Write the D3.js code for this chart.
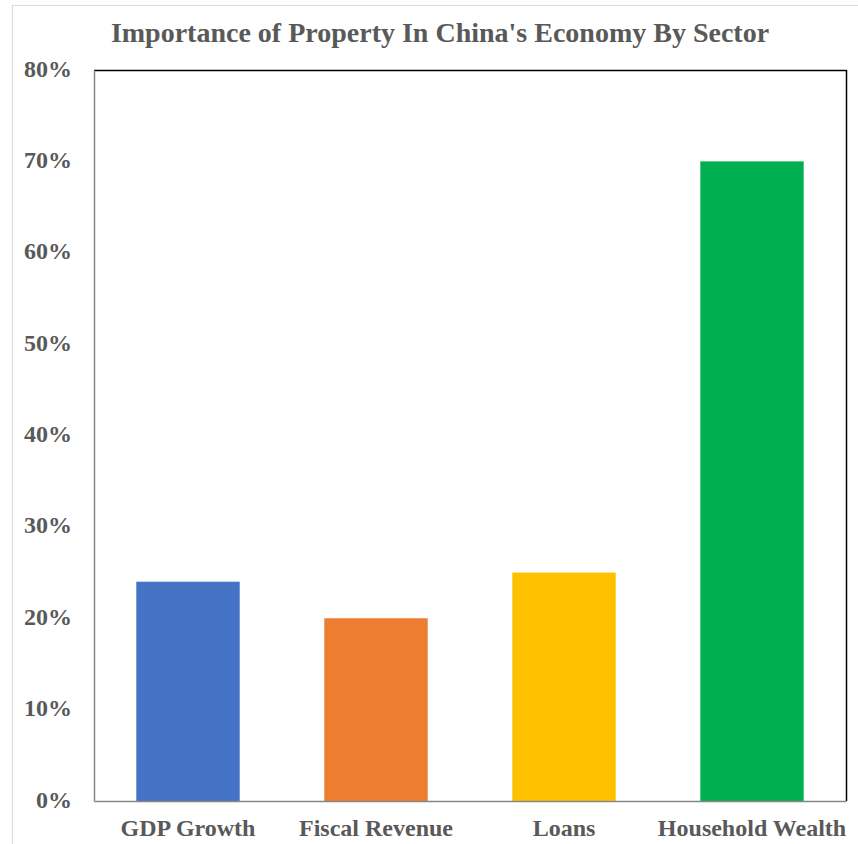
<!DOCTYPE html>
<html><head><meta charset="utf-8">
<script src="https://cdn.jsdelivr.net/npm/d3@7"></script>
<style>body{margin:0;background:#fff}svg{display:block}</style>
</head><body>
<script>
const categories = ["GDP Growth", "Fiscal Revenue", "Loans", "Household Wealth"];
const values = [0.24, 0.20, 0.25, 0.70];
const colors = ["#4472C4", "#ED7D31", "#FFC000", "#00B050"];
const yTicks = [0, 0.1, 0.2, 0.3, 0.4, 0.5, 0.6, 0.7, 0.8];
const title = "Importance of Property In China's Economy By Sector";

const W = 858, H = 844;
const m = {left: 94, right: 12, top: 70, bottom: 43};
const svg = d3.select("body").append("svg").attr("width", W).attr("height", H);
const font = "'Liberation Serif','Times New Roman',serif";

// outer chart border
svg.append("rect").attr("x", 12.5).attr("y", 5.5).attr("width", W).attr("height", H)
  .attr("fill", "none").attr("stroke", "#d9d9d9");

const x = d3.scaleBand().domain(categories).range([m.left, W - m.right]).paddingInner(0.45).paddingOuter(0.225);
const y = d3.scaleLinear().domain([0, 0.8]).range([H - m.bottom, m.top]);

svg.append("text").attr("x", 440).attr("y", 42).attr("text-anchor", "middle")
  .attr("font-family", font).attr("font-weight", "bold").attr("font-size", 28)
  .attr("fill", "#595959").text(title);

svg.selectAll("rect.bar").data(values).join("rect").attr("class", "bar")
  .attr("x", (d, i) => x(categories[i])).attr("width", x.bandwidth())
  .attr("y", d => y(d)).attr("height", d => y(0) - y(d))
  .attr("fill", (d, i) => colors[i]);

// frame: top & right black
svg.append("path").attr("d", `M${m.left},${y(0.8)+0.5}H${W - m.right + 0.5}V${y(0)}`)
  .attr("fill", "none").attr("stroke", "#000").attr("stroke-width", 1.5);

const yAxis = svg.append("g").attr("transform", `translate(${m.left},0)`)
  .call(d3.axisLeft(y).tickValues(yTicks).tickFormat(d3.format(".0%")).tickSize(0).tickPadding(22));
yAxis.select(".domain").attr("stroke", "#868686").attr("stroke-width", 1.5);
yAxis.selectAll("text").attr("font-family", font).attr("font-weight", "bold")
  .attr("font-size", 24).attr("fill", "#595959").attr("dy", "0.25em");

const xAxis = svg.append("g").attr("transform", `translate(0,${y(0)})`)
  .call(d3.axisBottom(x).tickSize(0).tickPadding(18));
xAxis.select(".domain").attr("stroke", "#868686").attr("stroke-width", 1.5);
xAxis.selectAll("text").attr("font-family", font).attr("font-weight", "bold")
  .attr("font-size", 24).attr("fill", "#595959");
</script>
</body></html>
